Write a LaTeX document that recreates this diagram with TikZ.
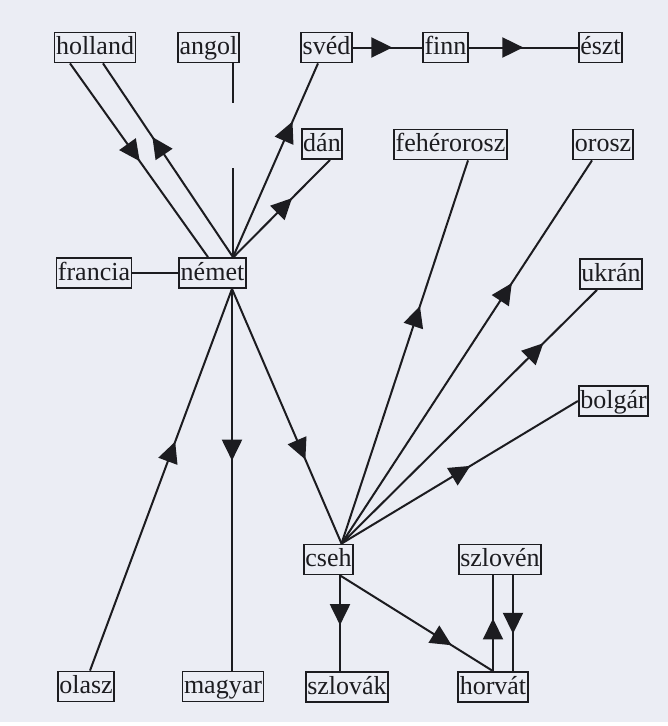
\documentclass[tikz,border=0pt]{standalone}
\usepackage{fontspec}
\setmainfont{Liberation Serif}
\usetikzlibrary{arrows.meta,decorations.markings,calc}

\definecolor{ink}   {HTML}{1C1C20}
\definecolor{paper} {HTML}{EBEDF4}

\tikzset{
  % --- nodes
  lang/.style = {draw=ink, line width=1.8pt, text=ink, inner xsep=1.5pt,
                 inner ysep=3pt, text height=19pt, text depth=5pt,
                 font=\fontsize{26}{30}\selectfont},
  % --- edges
  e/.style    = {draw=ink, color=ink, line width=2pt},
  mid/.style  = {e, postaction={decorate},
                 decoration={markings, mark=at position #1 with
                   {\arrow{Triangle[length=21pt,width=20pt]}}}},
}

\begin{document}
\begin{tikzpicture}[x=1pt,y=-1pt]
  \fill[paper] (0,0) rectangle (668,722);
  \fill[white] (0,722) rectangle (668,726);
  \useasboundingbox (0,0) rectangle (668,726);

  % top row
  \node[lang] (holland) at (95,47.5)   {holland};
  \node[lang] (angol)   at (208.5,47.5) {angol};
  \node[lang] (sved)    at (326.5,47.5) {svéd};
  \node[lang] (finn)    at (445.5,47.5) {finn};
  \node[lang] (eszt)    at (600.5,47.5) {észt};

  \node[lang] (dan)     at (322,144)    {dán};
  \node[lang] (feher)   at (450.5,144.5) {fehérorosz};
  \node[lang] (orosz)   at (603,144.5)  {orosz};

  \node[lang] (francia) at (94,273)     {francia};
  \node[lang] (nemet)   at (212.5,273)  {német};
  \node[lang] (ukran)   at (611,274)    {ukrán};
  \node[lang] (bolgar)  at (613.5,401)  {bolgár};

  \node[lang] (cseh)    at (328.5,559.5) {cseh};
  \node[lang] (szloven) at (500,559.5)  {szlovén};

  % bottom row
  \node[lang] (olasz)   at (86,686.5)   {olasz};
  \node[lang] (magyar)  at (223,686.5)  {magyar};
  \node[lang] (szlovak) at (347,687)    {szlovák};
  \node[lang] (horvat)  at (493,687)    {horvát};

  % around német
  \draw[mid=0.505] ([xshift=-25pt]holland.south) -- ([xshift=-4.5pt]nemet.north);
  \draw[mid=0.62]  ([xshift=20.5pt]nemet.north) -- ([xshift=8pt]holland.south);
  \draw[e, dash pattern=on 40pt off 65pt on 200pt off 10pt]
        ([xshift=24.5pt]angol.south) -- ([xshift=20.5pt]nemet.north);
  \draw[mid=0.70]  ([xshift=20.5pt]nemet.north) -- ([xshift=-8.5pt]sved.south);
  \draw[mid=0.61]  ([xshift=21pt]nemet.north) -- ([xshift=8pt]dan.south);
  \draw[e] (francia.east) -- (nemet.west);
  \draw[mid=0.60]  ([xshift=4pt]olasz.north) -- ([xshift=19.5pt]nemet.south);
  \draw[mid=0.45]  ([xshift=19.5pt]nemet.south) -- ([xshift=9pt]magyar.north);
  \draw[mid=0.67]  ([xshift=19.5pt]nemet.south) -- ([xshift=13pt]cseh.north);

  % north chain
  \draw[mid=0.57]  (sved.east) -- (finn.west);
  \draw[mid=0.50]  (finn.east) -- (eszt.west);

  % fan out of cseh
  \draw[mid=0.62]  ([xshift=13pt]cseh.north) -- ([xshift=17.5pt]feher.south);
  \draw[mid=0.68]  ([xshift=13pt]cseh.north) -- ([xshift=-11pt]orosz.south);
  \draw[mid=0.79]  ([xshift=13pt]cseh.north) -- ([xshift=-14pt]ukran.south);
  \draw[mid=0.545] ([xshift=13pt]cseh.north) -- (bolgar.west);
  \draw[mid=0.52]  ([xshift=11.5pt]cseh.south) -- ([xshift=-7pt]szlovak.north);
  \draw[mid=0.73]  ([xshift=11.5pt]cseh.south) -- (horvat.north);

  % horvát / szlovén
  \draw[mid=0.55]  (horvat.north) -- ([xshift=-7pt]szloven.south);
  \draw[mid=0.61]  ([xshift=13pt]szloven.south) -- ([xshift=20pt]horvat.north);
\end{tikzpicture}
\end{document}
